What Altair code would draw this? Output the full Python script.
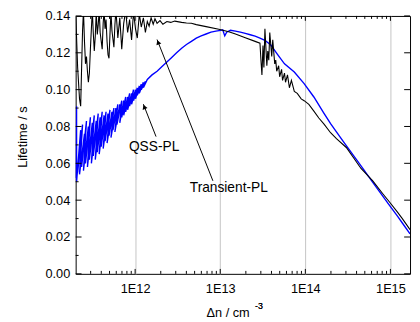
import altair as alt
import pandas as pd

FONT = "Liberation Sans"

# ---- Transient-PL (black) : injection level (cm^-3) and lifetime (s)
tr_n = [2.00e11, 2.11e11, 2.22e11, 2.29e11, 2.35e11, 2.41e11, 2.47e11, 2.54e11, 2.61e11, 2.68e11,
        2.75e11, 2.82e11, 2.90e11, 2.98e11, 3.06e11, 3.14e11, 3.22e11, 3.31e11, 3.40e11, 3.49e11,
        3.59e11, 3.68e11, 3.78e11, 3.88e11, 4.10e11, 4.21e11, 4.32e11, 4.43e11, 4.55e11, 4.68e11,
        4.80e11, 4.93e11, 5.06e11, 5.20e11, 5.34e11, 5.63e11, 5.78e11, 5.94e11, 6.10e11, 6.26e11,
        6.60e11, 6.96e11, 7.34e11, 7.74e11, 8.16e11, 8.61e11, 9.08e11, 9.57e11, 1.01e12, 1.06e12,
        1.12e12, 1.18e12, 1.25e12, 1.32e12, 1.39e12, 1.46e12, 1.54e12, 1.63e12, 1.71e12, 1.81e12,
        1.96e12, 2.12e12, 2.36e12, 2.62e12, 2.92e12, 3.52e12, 4.01e12, 4.58e12, 5.23e12, 6.82e12,
        9.62e12, 1.26e13, 1.51e13, 1.97e13, 2.57e13, 2.93e13, 3.01e13, 3.09e13, 3.18e13, 3.26e13,
        3.35e13, 3.53e13, 3.62e13, 3.72e13, 3.82e13, 4.03e13, 4.14e13, 4.37e13, 4.49e13, 4.61e13,
        4.86e13, 4.99e13, 5.26e13, 5.40e13, 5.69e13, 5.85e13, 6.17e13, 6.50e13, 6.86e13, 7.42e13,
        8.04e13, 8.94e13, 9.68e13, 1.10e14, 1.26e14, 1.44e14, 1.65e14, 1.98e14, 2.32e14, 3.03e14,
        3.65e14, 4.51e14, 5.29e14, 6.20e14, 8.09e14, 9.75e14, 1.21e15, 1.38e15, 1.70e15]
tr_tau = [0.142, 0.112, 0.095, 0.091, 0.112, 0.132, 0.143, 0.126, 0.114, 0.118,
          0.110, 0.104, 0.109, 0.122, 0.133, 0.143, 0.131, 0.121, 0.129, 0.142,
          0.130, 0.135, 0.143, 0.131, 0.122, 0.136, 0.143, 0.133, 0.138, 0.126,
          0.119, 0.117, 0.130, 0.142, 0.132, 0.123, 0.135, 0.143, 0.136, 0.128,
          0.139, 0.122, 0.136, 0.143, 0.131, 0.138, 0.127, 0.142, 0.133, 0.128,
          0.141, 0.134, 0.139, 0.131, 0.137, 0.1345, 0.139, 0.1355, 0.1385, 0.136,
          0.1375, 0.1355, 0.137, 0.1365, 0.1372, 0.1365, 0.1362, 0.136, 0.1353, 0.1342,
          0.1328, 0.1314, 0.1302, 0.1282, 0.1262, 0.1252, 0.116, 0.108, 0.124, 0.112,
          0.133, 0.113, 0.121, 0.116, 0.131, 0.118, 0.127, 0.114, 0.116, 0.110,
          0.113, 0.107, 0.111, 0.105, 0.109, 0.104, 0.108, 0.101, 0.105, 0.099,
          0.098, 0.095, 0.094, 0.092, 0.0883, 0.0846, 0.0814, 0.0766, 0.0734, 0.0686,
          0.0633, 0.0572, 0.0538, 0.0505, 0.0436, 0.0390, 0.0335, 0.0300, 0.0240]

# ---- QSS-PL (blue), in measurement order
qss_n = [2.00e11, 2.05e11, 2.05e11, 2.29e11, 2.11e11, 2.41e11, 2.22e11, 2.54e11, 2.35e11, 2.68e11,
         2.47e11, 2.82e11, 2.61e11, 2.98e11, 2.75e11, 3.14e11, 2.90e11, 3.31e11, 3.06e11, 3.49e11,
         3.22e11, 3.68e11, 3.40e11, 3.88e11, 3.59e11, 4.10e11, 3.78e11, 4.32e11, 3.99e11, 4.55e11,
         4.21e11, 4.80e11, 4.43e11, 5.06e11, 4.68e11, 5.34e11, 4.93e11, 5.63e11, 5.20e11, 5.94e11,
         5.48e11, 6.26e11, 5.78e11, 6.60e11, 6.10e11, 6.96e11, 6.60e11, 7.34e11, 6.96e11, 7.74e11,
         7.34e11, 8.16e11, 7.74e11, 8.61e11, 8.16e11, 9.08e11, 8.61e11, 9.57e11, 9.08e11, 1.01e12,
         9.57e11, 1.06e12, 1.01e12, 1.12e12, 1.06e12, 1.18e12, 1.12e12, 1.25e12, 1.18e12, 1.32e12,
         1.25e12, 1.39e12,
         1.58e12, 1.81e12, 2.07e12, 2.36e12, 2.69e12, 3.07e12, 3.52e12, 4.01e12, 4.58e12,
         5.23e12, 5.97e12, 6.82e12, 7.78e12, 8.89e12, 1.01e13, 1.07e13, 1.13e13, 1.19e13, 1.32e13,
         1.51e13, 1.72e13, 1.97e13, 2.25e13, 2.57e13, 2.93e13, 3.35e13, 3.93e13, 4.73e13, 5.69e13,
         7.42e13, 9.68e13, 1.26e14, 1.65e14, 1.98e14, 2.32e14, 2.80e14, 3.95e14, 4.76e14, 6.20e14,
         8.09e14, 9.75e14, 1.21e15, 1.38e15, 1.70e15]
qss_tau = [0.052, 0.091, 0.050, 0.078, 0.055, 0.081, 0.054, 0.076, 0.058, 0.083,
           0.056, 0.080, 0.060, 0.085, 0.058, 0.082, 0.062, 0.086, 0.060, 0.083,
           0.064, 0.087, 0.062, 0.085, 0.066, 0.088, 0.065, 0.086, 0.069, 0.088,
           0.068, 0.087, 0.072, 0.089, 0.071, 0.088, 0.075, 0.090, 0.074, 0.090,
           0.078, 0.092, 0.077, 0.092, 0.081, 0.094, 0.082, 0.094, 0.085, 0.096,
           0.086, 0.096, 0.088, 0.098, 0.089, 0.098, 0.091, 0.100, 0.092, 0.100,
           0.094, 0.101, 0.095, 0.102, 0.097, 0.103, 0.098, 0.104, 0.100, 0.1045,
           0.101, 0.1055,
           0.108, 0.110, 0.1125, 0.115, 0.1175, 0.120, 0.1225, 0.1245, 0.1262,
           0.128, 0.1292, 0.1302, 0.1312, 0.1318, 0.1322, 0.1325, 0.1292, 0.1312, 0.1322,
           0.1318, 0.1312, 0.1305, 0.1298, 0.1290, 0.1280, 0.1268, 0.1242, 0.1190, 0.1140,
           0.1096, 0.1033, 0.0960, 0.0873, 0.0815, 0.0771, 0.0718, 0.0623, 0.0571, 0.0497,
           0.0423, 0.0372, 0.0313, 0.0276, 0.0217]

# ---- axis ticks
x_major = [1e12, 1e13, 1e14, 1e15]
x_minor = [3e11, 4e11, 5e11, 6e11, 7e11, 8e11, 9e11,
           2e12, 3e12, 4e12, 5e12, 6e12, 7e12, 8e12, 9e12,
           2e13, 3e13, 4e13, 5e13, 6e13, 7e13, 8e13, 9e13,
           2e14, 3e14, 4e14, 5e14, 6e14, 7e14, 8e14, 9e14]
y_major = [0.00, 0.02, 0.04, 0.06, 0.08, 0.10, 0.12, 0.14]
y_minor = [0.01, 0.03, 0.05, 0.07, 0.09, 0.11, 0.13]

# ---- annotations
ann_text = ["QSS-PL", "Transient-PL"]
ann_x = [1.67e12, 1.26e13]
ann_y = [0.0687, 0.0468]
arr_x0 = [1.76e12, 8.20e12]
arr_y0 = [0.0745, 0.0505]
arr_x1 = [1.25e12, 1.81e12]
arr_y1 = [0.0921, 0.1272]
head_x = [1.28e12, 1.86e12]
head_y = [0.0906, 0.1257]

W, H = 341, 263

df_tr = pd.DataFrame({"n": tr_n, "tau": tr_tau, "i": range(len(tr_n))})
df_qss = pd.DataFrame({"n": qss_n, "tau": qss_tau, "i": range(len(qss_n))})
df_xmaj = pd.DataFrame({"n": x_major})
df_xmin = pd.DataFrame({"n": x_minor})
df_ymaj = pd.DataFrame({"tau": y_major})
df_ymin = pd.DataFrame({"tau": y_minor})
df_ann = pd.DataFrame({"n": ann_x, "tau": ann_y, "t": ann_text})
df_arr = pd.DataFrame({"n": arr_x0, "tau": arr_y0, "n1": arr_x1, "tau1": arr_y1})
df_head = pd.DataFrame({"n": head_x, "tau": head_y})

xs = alt.Scale(type="log", domain=[2.0e11, 1.7e15])
ys = alt.Scale(domain=[0, 0.14])

x_axis = alt.Axis(values=x_major, labelExpr="'1E' + round(log(datum.value) / LN10)",
                  grid=True, gridColor="#c4c4c4", gridWidth=1, ticks=False, domain=False,
                  labelPadding=9, labelFontSize=13, labelFont=FONT, labelColor="black",
                  title="Δn / cm", titleFont=FONT, titleFontSize=13, titleFontWeight="normal",
                  titleColor="black", titleX=155, titleY=44, titleBaseline="alphabetic",
                  titleAlign="center")
y_axis = alt.Axis(values=y_major, format=".2f", grid=False, ticks=False, domain=False,
                  labelPadding=6, labelFontSize=13, labelFont=FONT, labelColor="black",
                  title="Lifetime / s", titleFont=FONT, titleFontSize=13, titleFontWeight="normal",
                  titleColor="black", titleX=-54, titleY=123, titleBaseline="middle",
                  titleAlign="center")

X = alt.X("n:Q", scale=xs, axis=x_axis)
Y = alt.Y("tau:Q", scale=ys, axis=y_axis)

blue = alt.Chart(df_qss).mark_line(color="#0000ff", strokeWidth=1.4, clip=True).encode(
    x=X, y=Y, order="i:Q")
black = alt.Chart(df_tr).mark_line(color="black", strokeWidth=1.1, clip=True).encode(
    x=X, y=Y, order="i:Q")


def xticks(df, y0, y1):
    return alt.Chart(df).mark_rule(color="black", strokeWidth=1).encode(
        x=X, y=alt.value(y0), y2=alt.value(y1))


def yticks(df, x0, x1):
    return alt.Chart(df).mark_rule(color="black", strokeWidth=1).encode(
        y=Y, x=alt.value(x0), x2=alt.value(x1))


ticks = [
    xticks(df_xmaj, H, H - 5), xticks(df_xmin, H, H - 3),
    xticks(df_xmaj, 0, 5), xticks(df_xmin, 0, 3),
    yticks(df_ymaj, 0, 6), yticks(df_ymin, 0, 3),
    yticks(df_ymaj, W, W - 6),
]

labels = alt.Chart(df_ann).mark_text(font=FONT, fontSize=14, color="black",
                                     align="center", baseline="middle").encode(
    x=X, y=Y, text="t:N")
arrows = alt.Chart(df_arr).mark_rule(color="black", strokeWidth=1).encode(
    x=X, x2="n1:Q", y=Y, y2="tau1:Q")
heads = alt.Chart(df_head).mark_point(shape="triangle-up", filled=True, size=28, color="black",
                                      opacity=1, angle=339).encode(x=X, y=Y)
sup = alt.Chart(df_head).mark_text(text="-3", font=FONT, fontSize=9, color="black",
                                   align="center", baseline="middle").encode(
    x=alt.value(187), y=alt.value(296))

chart = alt.layer(blue, black, *ticks, arrows, heads, labels, sup).properties(
    width=W, height=H,
    autosize=alt.AutoSizeParams(type="none"),
    padding={"left": 69, "top": 5, "right": 2, "bottom": 46},
).configure_view(stroke="black", strokeWidth=1)

chart.save("out.html", embed_options={"renderer": "svg", "actions": False})
